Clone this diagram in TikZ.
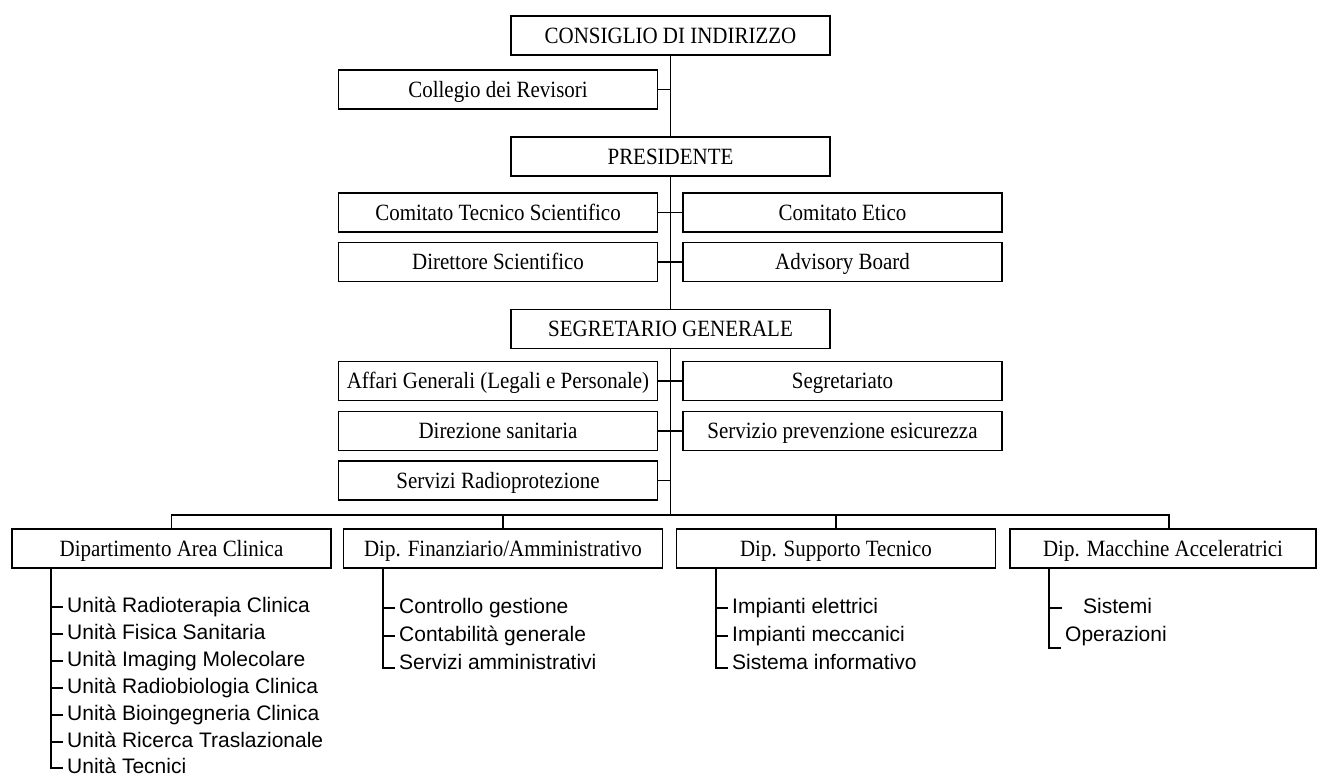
\documentclass[tikz,border=0pt]{standalone}
\usepackage{fontspec}
\setmainfont{Liberation Serif}[FakeStretch=0.9]
\newfontfamily\listfont{Liberation Sans}

\tikzstyle{unit}=[draw,line width=1.8pt,rectangle,fill=white,minimum width=319pt,minimum height=39pt,inner sep=0pt,text height=18pt,text depth=2.6pt,font=\fontsize{23.3}{26}\selectfont]
\tikzstyle{edge} = [draw,line width=1.3pt,-]
\tikzstyle{item} = [anchor=west,inner xsep=4pt,inner ysep=0pt,text height=15pt,text depth=5pt,font=\listfont\fontsize{21}{24}\selectfont]

\begin{document}
\begin{tikzpicture}[x=1pt, y=-1pt]
    \useasboundingbox (0,0) rectangle (1317,780);
    % First we draw the boxes
    \foreach \pos/\name/\txt in {{(670.5,35.5)/cons/CONSIGLIO DI INDIRIZZO}, {(498,89.5)/coll/Collegio dei Revisori},
        {(670.5,156.5)/pres/PRESIDENTE}, {(498,212.5)/cts/Comitato Tecnico Scientifico}, {(842.5,212.5)/ce/Comitato Etico},
        {(498,262)/dir/Direttore Scientifico}, {(842.5,262)/adv/Advisory Board}, {(670.5,329)/seg/SEGRETARIO GENERALE},
        {(498,381)/aff/Affari Generali (Legali e Personale)}, {(842.5,381)/segr/Segretariato},
        {(498,431)/dsan/Direzione sanitaria}, {(842.5,431)/sprev/Servizio prevenzione esicurezza},
        {(498,480.5)/rad/Servizi Radioprotezione}, {(171.5,548.5)/ac/Dipartimento Area Clinica},
        {(503,548.5)/fin/{Dip. Finanziario/Amministrativo}}, {(836,548.5)/supp/Dip. Supporto Tecnico}}
        \node[unit] (\name) at \pos {\txt};
    \node[unit, minimum width=306pt] (mac) at (1163,548.5) {Dip. Macchine Acceleratrici};
    % Main line and side connectors
    \coordinate (bus) at (670.5,515);
    \path[edge] (cons) -- (pres);
    \path[edge] (pres) -- (seg);
    \path[edge] (seg) -- (bus);
    \foreach \source in {coll,rad}
        \path[edge] (\source.east) -- (\source.east -| cons.south);
    \foreach \source/\dest in {cts/ce,dir/adv,aff/segr,dsan/sprev}
        \path[edge] (\source.east) -- (\dest.west);
    \foreach \dest in {ac,fin,supp}
        \path[edge] (bus) -| (\dest.north);
    \path[edge] (bus) -| ([xshift=6pt]mac.north);
    % Then the units below each department
    \coordinate (acv) at ([xshift=-120.5pt]ac.south);
    \coordinate (finv) at ([xshift=-120pt]fin.south);
    \coordinate (suppv) at ([xshift=-120pt]supp.south);
    \coordinate (macv) at ([xshift=-114pt]mac.south);
    \foreach \y/\name/\txt in {607/ac1/Unità Radioterapia Clinica, 634/ac2/Unità Fisica Sanitaria,
        661/ac3/Unità Imaging Molecolare, 688/ac4/Unità Radiobiologia Clinica,
        715/ac5/Unità Bioingegneria Clinica, 742/ac6/Unità Ricerca Traslazionale, 768/ac7/Unità Tecnici}
        \node[item] (\name) at (63,\y) {\txt};
    \foreach \y/\name/\txt in {608/fin1/Controllo gestione, 636/fin2/Contabilità generale, 664/fin3/Servizi amministrativi}
        \node[item] (\name) at (395,\y) {\txt};
    \foreach \y/\name/\txt in {608/supp1/Impianti elettrici, 636/supp2/Impianti meccanici, 664/supp3/Sistema informativo}
        \node[item] (\name) at (728,\y) {\txt};
    \node[item] (mac1) at (1079,608) {Sistemi};
    \node[item] (mac2) at (1061,636) {Operazioni};
    \foreach \n in {ac1,ac2,ac3,ac4,ac5,ac6}
        \path[edge] (acv |- \n.west) -- (\n.west);
    \path[edge] (acv) |- (ac7.west);
    \foreach \n in {fin1,fin2}
        \path[edge] (finv |- \n.west) -- (\n.west);
    \path[edge] (finv) |- ([yshift=-4pt]fin3.west);
    \foreach \n in {supp1,supp2}
        \path[edge] (suppv |- \n.west) -- (\n.west);
    \path[edge] (suppv) |- ([yshift=-4pt]supp3.west);
    \path[edge] (macv |- mac1.west) -- ++(13,0);
    \path[edge] (macv) |- ([yshift=-12pt]mac2.west);
\end{tikzpicture}
\end{document}
